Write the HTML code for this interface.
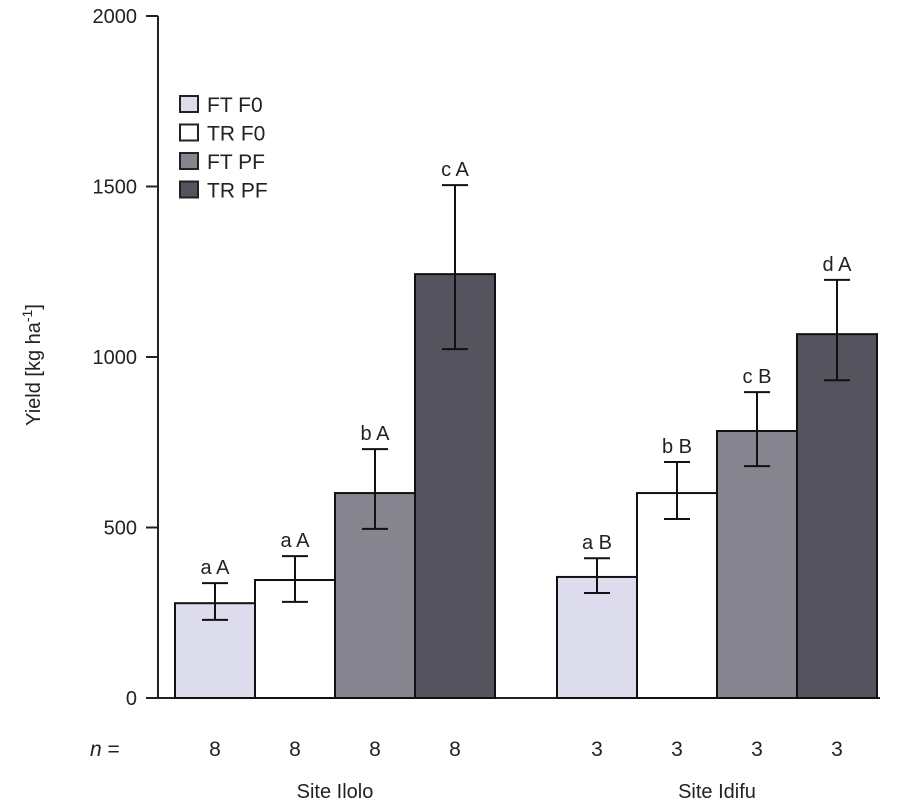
<!DOCTYPE html>
<html><head><meta charset="utf-8"><style>
html,body{margin:0;padding:0;background:#fff;}
svg{display:block;font-family:"Liberation Sans",Arial,sans-serif;}
</style></head><body>
<svg id="chart" width="897" height="811" viewBox="0 0 897 811"></svg>
<script>
const groups = ["Site Ilolo", "Site Idifu"];
const treatments = ["FT F0", "TR F0", "FT PF", "TR PF"];
const ilolo = [278, 346, 601, 1243];
const ilolo_hi = [337, 416, 730, 1504];
const ilolo_lo = [229, 282, 496, 1023];
const idifu = [355, 601, 783, 1067];
const idifu_hi = [410, 692, 897, 1226];
const idifu_lo = [308, 525, 680, 932];
const ilolo_labels = ["a A", "a A", "b A", "c A"];
const idifu_labels = ["a B", "b B", "c B", "d A"];
const ilolo_n = ["8", "8", "8", "8"];
const idifu_n = ["3", "3", "3", "3"];
const yTicks = [0, 500, 1000, 1500, 2000];

const fills = ["#dcdcec", "#ffffff", "#86858f", "#55545e"];
const svg = document.getElementById('chart');
const NS = "http://www.w3.org/2000/svg";
function mk(tag, attrs, parent){const e=document.createElementNS(NS,tag);for(const k in attrs)e.setAttribute(k,attrs[k]);(parent||svg).appendChild(e);return e;}
const y0 = 698, yTop = 16, yMax = 2000;
function y(v){return y0 - (v / yMax) * (y0 - yTop);}
const barW = 80;
const groupStart = [175, 557];
function x(g, i){return groupStart[g] + i * barW;}

let e = mk('line',{x1:158,y1:16,x2:158,y2:698,stroke:'#222','stroke-width':2});


e = mk('line',{x1:158,y1:698,x2:880,y2:698,stroke:'#222','stroke-width':2});


yTicks.forEach(t=>{
  const tl = mk('line',{x1:146,y1:y(t),x2:158,y2:y(t),stroke:'#222','stroke-width':2});
  
  
  const tx = mk('text',{x:137,y:y(t)+7,'text-anchor':'end','font-size':20,fill:'#222'});
  tx.textContent = t;
  
  
});
const yt = mk('text',{x:0,y:0,'text-anchor':'middle','font-size':20,fill:'#222',transform:'translate(40,365) rotate(-90)'});
yt.innerHTML = 'Yield [kg ha<tspan dy="-8" font-size="14">-1</tspan><tspan dy="8">]</tspan>';



const data = [[ilolo,ilolo_hi,ilolo_lo,ilolo_labels,ilolo_n],[idifu,idifu_hi,idifu_lo,idifu_labels,idifu_n]];
data.forEach((d,g)=>{
  d[0].forEach((v,i)=>{
    const bx = x(g,i);
    const r = mk('rect',{x:bx,y:y(v),width:barW,height:y0-y(v),fill:fills[i],stroke:'#111','stroke-width':2});
    
    
    const cx = bx + barW/2;
    const eg = mk('g',{stroke:'#111','stroke-width':2});
    
    
    mk('line',{x1:cx,y1:y(d[1][i]),x2:cx,y2:y(d[2][i])},eg);
    mk('line',{x1:cx-13,y1:y(d[1][i]),x2:cx+13,y2:y(d[1][i])},eg);
    mk('line',{x1:cx-13,y1:y(d[2][i]),x2:cx+13,y2:y(d[2][i])},eg);
    const lt = mk('text',{x:cx,y:y(d[1][i])-9,'text-anchor':'middle','font-size':20,fill:'#222'});
    lt.textContent = d[3][i];
    
    
    const nt = mk('text',{x:cx,y:756,'text-anchor':'middle','font-size':21,fill:'#222'});
    nt.textContent = d[4][i];
    
    
  });
  const gt = mk('text',{x:groupStart[g]+2*barW,y:798,'text-anchor':'middle','font-size':20,fill:'#222'});
  gt.textContent = groups[g];
  
  
});
const nl = mk('text',{x:90,y:756,'font-size':21,fill:'#222'});
nl.innerHTML = '<tspan font-style="italic">n</tspan> =';



treatments.forEach((t,i)=>{
  const ly = 96 + i*28.5;
  const g = mk('g',{});
  
  
  mk('rect',{x:180,y:ly,width:18,height:16,fill:fills[i],stroke:'#222','stroke-width':2},g);
  const tx = mk('text',{x:207,y:ly+16,'font-size':21,fill:'#222'},g);
  tx.textContent = t;
});
</script>
</body></html>
